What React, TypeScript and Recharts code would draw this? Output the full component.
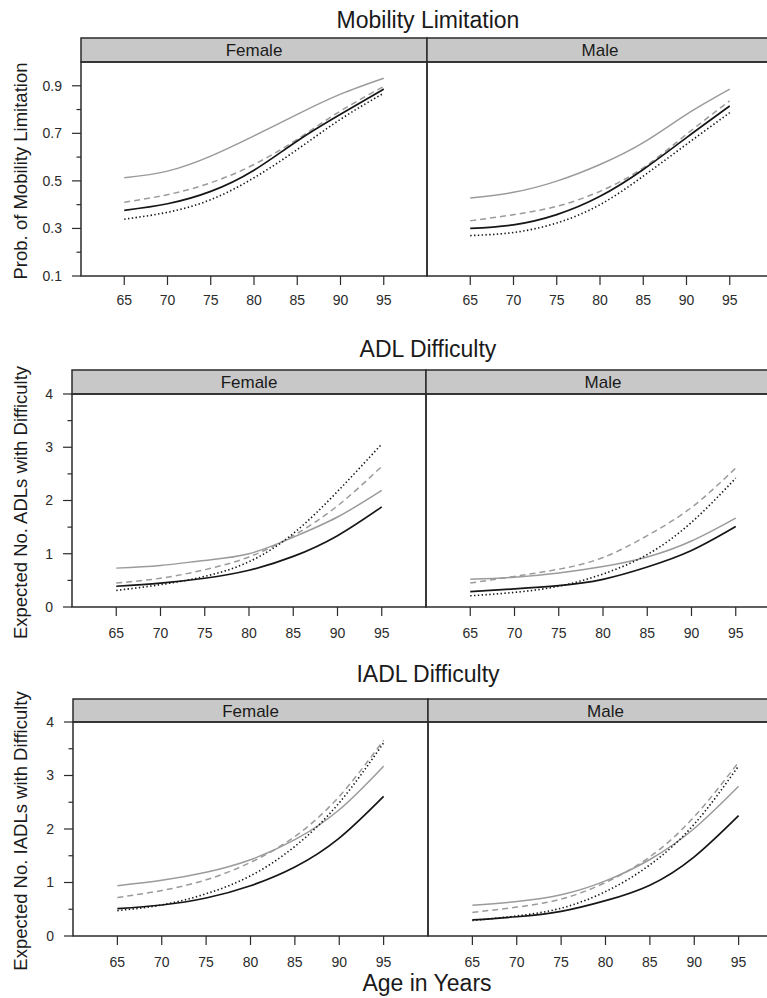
import { LineChart, Line, XAxis, YAxis } from "recharts";

const INK = "#2b2b2b";
const GRAY = "#9b9b9b";
const FONT = "'Liberation Sans', Arial, Helvetica, sans-serif";

const AGES = [65, 70, 75, 80, 85, 90, 95];

const MOB_TICKS = [0.1, 0.2, 0.3, 0.4, 0.5, 0.6, 0.7, 0.8, 0.9];
const MOB_MAJOR = [0.1, 0.3, 0.5, 0.7, 0.9];
const COUNT_TICKS = [0, 0.5, 1, 1.5, 2, 2.5, 3, 3.5, 4];
const COUNT_MAJOR = [0, 1, 2, 3, 4];

// Mobility limitation, probability
const MOB_F_GRAY = [0.513, 0.541, 0.604, 0.689, 0.78, 0.865, 0.932];
const MOB_F_DASH = [0.41, 0.442, 0.492, 0.569, 0.675, 0.794, 0.897];
const MOB_F_BLACK = [0.376, 0.404, 0.456, 0.545, 0.668, 0.78, 0.886];
const MOB_F_DOT = [0.339, 0.368, 0.421, 0.513, 0.632, 0.759, 0.869];
const MOB_M_GRAY = [0.428, 0.452, 0.499, 0.569, 0.661, 0.78, 0.886];
const MOB_M_DASH = [0.332, 0.358, 0.393, 0.456, 0.555, 0.696, 0.837];
const MOB_M_BLACK = [0.3, 0.315, 0.358, 0.435, 0.548, 0.682, 0.815];
const MOB_M_DOT = [0.27, 0.283, 0.323, 0.4, 0.52, 0.654, 0.787];

// ADL difficulty, expected count
const ADL_F_GRAY = [0.73, 0.78, 0.875, 1.0, 1.31, 1.69, 2.19];
const ADL_F_DASH = [0.45, 0.54, 0.7, 0.94, 1.34, 1.9, 2.64];
const ADL_F_BLACK = [0.39, 0.45, 0.54, 0.69, 0.95, 1.34, 1.88];
const ADL_F_DOT = [0.31, 0.42, 0.575, 0.85, 1.38, 2.17, 3.06];
const ADL_M_GRAY = [0.52, 0.56, 0.64, 0.76, 0.94, 1.24, 1.67];
const ADL_M_DASH = [0.45, 0.575, 0.71, 0.93, 1.34, 1.87, 2.61];
const ADL_M_BLACK = [0.29, 0.34, 0.4, 0.52, 0.75, 1.06, 1.51];
const ADL_M_DOT = [0.21, 0.275, 0.39, 0.62, 0.985, 1.59, 2.42];

// IADL difficulty, expected count
const IADL_F_GRAY = [0.94, 1.04, 1.19, 1.425, 1.8, 2.36, 3.175];
const IADL_F_DASH = [0.72, 0.85, 1.05, 1.375, 1.86, 2.61, 3.66];
const IADL_F_BLACK = [0.51, 0.58, 0.71, 0.94, 1.29, 1.83, 2.61];
const IADL_F_DOT = [0.475, 0.58, 0.79, 1.125, 1.675, 2.49, 3.61];
const IADL_M_GRAY = [0.575, 0.645, 0.77, 1.03, 1.43, 2.01, 2.8];
const IADL_M_DASH = [0.44, 0.54, 0.69, 1.0, 1.48, 2.23, 3.25];
const IADL_M_BLACK = [0.3, 0.36, 0.46, 0.66, 0.95, 1.48, 2.25];
const IADL_M_DOT = [0.29, 0.375, 0.52, 0.83, 1.33, 2.09, 3.18];

const toRows = (gray: number[], dash: number[], black: number[], dot: number[]) =>
  AGES.map((age, i) => ({ age, gray: gray[i], dash: dash[i], black: black[i], dot: dot[i] }));

const ROWS = [
  {
    title: "Mobility Limitation",
    yLabel: "Prob. of Mobility Limitation",
    titleY: 28,
    stripTop: 38, top: 62, bottom: 276, left: 81, width: 346,
    domain: [0.1, 1.0], ticks: MOB_TICKS, major: MOB_MAJOR, fmt: (v: number) => v.toFixed(1),
    gap: 10,
    female: toRows(MOB_F_GRAY, MOB_F_DASH, MOB_F_BLACK, MOB_F_DOT),
    male: toRows(MOB_M_GRAY, MOB_M_DASH, MOB_M_BLACK, MOB_M_DOT),
  },
  {
    title: "ADL Difficulty",
    yLabel: "Expected No. ADLs with Difficulty",
    titleY: 357,
    stripTop: 370, top: 394, bottom: 607, left: 72, width: 354,
    domain: [0, 4], ticks: COUNT_TICKS, major: COUNT_MAJOR, fmt: (v: number) => String(v),
    gap: 12,
    female: toRows(ADL_F_GRAY, ADL_F_DASH, ADL_F_BLACK, ADL_F_DOT),
    male: toRows(ADL_M_GRAY, ADL_M_DASH, ADL_M_BLACK, ADL_M_DOT),
  },
  {
    title: "IADL Difficulty",
    yLabel: "Expected No. IADLs with Difficulty",
    titleY: 682,
    stripTop: 699, top: 722, bottom: 936, left: 73, width: 355,
    domain: [0, 4], ticks: COUNT_TICKS, major: COUNT_MAJOR, fmt: (v: number) => String(v),
    gap: 12,
    female: toRows(IADL_F_GRAY, IADL_F_DASH, IADL_F_BLACK, IADL_F_DOT),
    male: toRows(IADL_M_GRAY, IADL_M_DASH, IADL_M_BLACK, IADL_M_DOT),
  },
];

function YTick(props: any) {
  const { x, y, payload, major, fmt } = props;
  const isMajor = major.some((m: number) => Math.abs(m - payload.value) < 1e-6);
  return (
    <g>
      <line x1={x - (isMajor ? 9 : 4.5)} x2={x} y1={y} y2={y} stroke={INK} strokeWidth={1.2} />
      {isMajor && (
        <text x={x - 19} y={y} dy="0.35em" textAnchor="end" fill={INK} fontSize={14} fontFamily={FONT}>
          {fmt(payload.value)}
        </text>
      )}
    </g>
  );
}

function Panel({ row, data, left, showY }: any) {
  const axisW = 60;
  const pad = 12;
  const offset = showY ? axisW : 0;
  const h = row.bottom - row.top;
  return (
    <div style={{ position: "absolute", left: left - offset, top: row.top - pad }}>
      <LineChart
        width={row.width + offset}
        height={h + 45 + pad}
        data={data}
        margin={{ top: pad, right: 0, bottom: 0, left: 0 }}
      >
        <XAxis
          dataKey="age"
          type="number"
          domain={[60, 100]}
          ticks={AGES}
          interval={0}
          height={45}
          tickSize={9}
          tickMargin={row.gap}
          axisLine={false}
          tickLine={{ stroke: INK, strokeWidth: 1.2 }}
          tick={{ fill: INK, fontSize: 14, fontFamily: FONT }}
        />
        <YAxis
          type="number"
          domain={row.domain}
          ticks={row.ticks}
          interval={0}
          hide={!showY}
          width={axisW}
          tickSize={0}
          tickMargin={0}
          axisLine={false}
          tickLine={false}
          allowDataOverflow
          tick={<YTick major={row.major} fmt={row.fmt} />}
        />
        <Line type="natural" dataKey="gray" stroke={GRAY} strokeWidth={1.5} dot={false} isAnimationActive={false} />
        <Line type="natural" dataKey="dash" stroke={GRAY} strokeWidth={1.5} strokeDasharray="6 4" dot={false} isAnimationActive={false} />
        <Line type="natural" dataKey="black" stroke="#161616" strokeWidth={1.7} dot={false} isAnimationActive={false} />
        <Line type="natural" dataKey="dot" stroke="#161616" strokeWidth={1.6} strokeDasharray="1.4 2.4" dot={false} isAnimationActive={false} />
      </LineChart>
    </div>
  );
}

export default function App() {
  return (
    <div style={{ position: "absolute", left: 0, top: 0, width: 767, height: 998, overflow: "hidden", background: "#fff" }}>
      {ROWS.map((row, i) => (
        <div key={i}>
          <Panel row={row} data={row.female} left={row.left} showY />
          <Panel row={row} data={row.male} left={row.left + row.width} showY={false} />
        </div>
      ))}
      <svg width={767} height={998} style={{ position: "absolute", left: 0, top: 0, pointerEvents: "none" }}>
        {ROWS.map((row, i) => {
          const div = row.left + row.width;
          const right = row.left + row.width * 2;
          const stripMid = (row.stripTop + row.top) / 2;
          const yMid = (row.top + row.bottom) / 2 + 2;
          return (
            <g key={i} fontFamily={FONT}>
              <text x={428} y={row.titleY} textAnchor="middle" fontSize={23} fill="#1a1a1a">
                {row.title}
              </text>
              <rect x={row.left} y={row.stripTop} width={row.width} height={row.top - row.stripTop} fill="#c8c8c8" stroke={INK} strokeWidth={1.5} />
              <rect x={div} y={row.stripTop} width={row.width} height={row.top - row.stripTop} fill="#c8c8c8" stroke={INK} strokeWidth={1.5} />
              <text x={row.left + row.width / 2} y={stripMid} dy="0.36em" textAnchor="middle" fontSize={17} fill="#1a1a1a">
                Female
              </text>
              <text x={div + row.width / 2} y={stripMid} dy="0.36em" textAnchor="middle" fontSize={17} fill="#1a1a1a">
                Male
              </text>
              <rect x={row.left} y={row.top} width={row.width} height={row.bottom - row.top} fill="none" stroke={INK} strokeWidth={1.5} />
              <rect x={div} y={row.top} width={right - div} height={row.bottom - row.top} fill="none" stroke={INK} strokeWidth={1.5} />
              <text
                x={21}
                y={yMid}
                transform={`rotate(-90 21 ${yMid})`}
                dy="0.35em"
                textAnchor="middle"
                fontSize={18.5}
                fill="#1a1a1a"
              >
                {row.yLabel}
              </text>
            </g>
          );
        })}
        <text x={427} y={991} textAnchor="middle" fontSize={23} fill="#1a1a1a" fontFamily={FONT}>
          Age in Years
        </text>
      </svg>
    </div>
  );
}
